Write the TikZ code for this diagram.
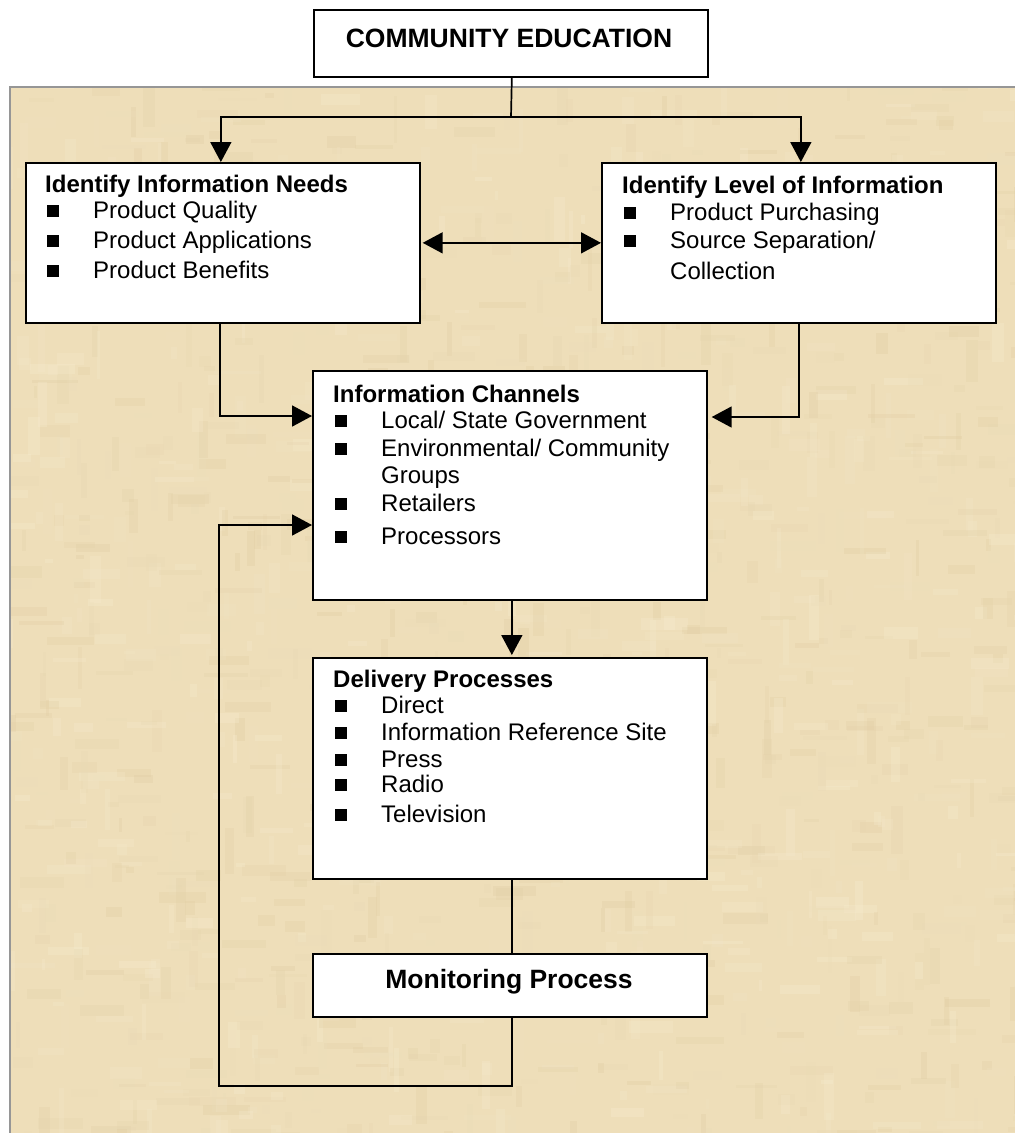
\documentclass[tikz,border=0pt]{standalone}
\usepackage{fontspec}
\setmainfont{Liberation Sans}
\usetikzlibrary{arrows.meta}

\definecolor{parchBase}{RGB}{238,222,185}
\definecolor{parchLight}{RGB}{249,239,212}
\definecolor{parchDark}{RGB}{222,202,158}
\definecolor{frameGray}{RGB}{150,150,150}

% one bulleted line, and a continuation line indented to the item text
\newcommand\bulletrow[1]{\hspace*{1.5pt}\raisebox{1pt}{\rule{12.5pt}{12pt}}\hspace*{34pt}#1}
\newcommand\wraprow[1]{\hspace*{48pt}#1}

\begin{document}
\begin{tikzpicture}[x=1pt,y=-1pt,
  box/.style={draw=black, fill=white, line width=1.7pt, anchor=north west,
              inner sep=0pt, minimum width=394pt},
  listtext/.style={anchor=base west, inner sep=0pt,
              font=\fontsize{24}{26}\selectfont},
  headtext/.style={anchor=base, inner sep=0pt,
              font=\fontsize{26.5}{30}\selectfont\bfseries},
  link/.style={draw=black, line width=1.7pt},
  arr/.style={link, -{Triangle[length=20pt,width=21pt]}},
]
\useasboundingbox (0,0) rectangle (1015,1133);

% parchment panel: base tone with soft light and dark streaks
\fill[parchBase] (10,87) rectangle (1015,1133);
\begin{scope}
  \clip (10,87) rectangle (1015,1133);
  \pgfmathsetseed{42}
  \foreach \i in {1,...,1500}{
    \pgfmathsetmacro{\px}{0+rnd*1025}
    \pgfmathsetmacro{\py}{80+rnd*1060}
    \pgfmathsetmacro{\rl}{8+rnd*40}
    \pgfmathsetmacro{\rt}{3+rnd*9}
    \pgfmathtruncatemacro{\pmix}{rnd*100}
    \pgfmathtruncatemacro{\vert}{rnd<0.4 ? 1 : 0}
    \ifnum\vert=1
      \fill[parchLight!\pmix!parchDark, opacity=0.28] (\px,\py) rectangle ++(\rt,\rl);
    \else
      \fill[parchLight!\pmix!parchDark, opacity=0.28] (\px,\py) rectangle ++(\rl,\rt);
    \fi
  }
\end{scope}
\draw[frameGray, line width=1.5pt] (10,1133) -- (10,87) -- (1015,87);

% boxes
\node[box, minimum height=67pt]  (ce)     at (313,9)   {};
\node[box, minimum height=160pt] (needs)  at (25,162)  {};
\node[box, minimum height=160pt] (level)  at (601,162) {};
\node[box, minimum height=229pt] (chan)   at (312,370) {};
\node[box, minimum height=221pt] (deliv)  at (312,657) {};
\node[box, minimum height=63pt]  (mon)    at (312,953) {};

% texts
\node[headtext] (ceText) at (509,47) {COMMUNITY EDUCATION};
\node[headtext] (monText) at (509,988) {Monitoring Process};

\node[listtext] (needsText) at (45,192) {\begin{tabular}[t]{@{}l@{}}
  \textbf{Identify Information Needs}\\
  \bulletrow{Product Quality}\\[4pt]
  \bulletrow{Product Applications}\\[4pt]
  \bulletrow{Product Benefits}
\end{tabular}};

\node[listtext] (levelText) at (622,193) {\begin{tabular}[t]{@{}l@{}}
  \textbf{Identify Level of Information}\\[1pt]
  \bulletrow{Product Purchasing}\\[2pt]
  \bulletrow{Source Separation/}\\[5pt]
  \wraprow{Collection}
\end{tabular}};

\node[listtext] (chanText) at (333,402) {\begin{tabular}[t]{@{}l@{}}
  \textbf{Information Channels}\\
  \bulletrow{Local/ State Government}\\[2pt]
  \bulletrow{Environmental/ Community}\\[1pt]
  \wraprow{Groups}\\[2pt]
  \bulletrow{Retailers}\\[7pt]
  \bulletrow{Processors}
\end{tabular}};

\node[listtext] (delivText) at (333,687) {\begin{tabular}[t]{@{}l@{}}
  \textbf{Delivery Processes}\\
  \bulletrow{Direct}\\[1pt]
  \bulletrow{Information Reference Site}\\[1pt]
  \bulletrow{Press}\\[-1pt]
  \bulletrow{Radio}\\[4pt]
  \bulletrow{Television}
\end{tabular}};

% connectors
\coordinate (split) at (511,117);
\coordinate (yL) at (0,416);
\coordinate (yR) at (0,417);
\coordinate (yB) at (0,525);
\coordinate (loopCorner) at (219,1086);

\draw[link] ([xshift=1pt]ce.south) -- (split);
\draw[arr] (split) -| ([xshift=-2pt]needs.north);
\draw[arr] (split) -| ([xshift=2pt]level.north);
\draw[link, {Triangle[length=20pt,width=21pt]}-{Triangle[length=20pt,width=21pt]},
      shorten <=2pt] (needs.east) -- (level.west);
\draw[arr] ([xshift=-3pt]needs.south) |- (chan.west |- yL);
\draw[arr, shorten >=4pt] (level.south) |- (chan.east |- yR);
\draw[arr, shorten >=2pt] ([xshift=2pt]chan.south) -- ([xshift=2pt]deliv.north);
\draw[link] ([xshift=2pt]deliv.south) -- ([xshift=2pt]mon.north);
\draw[arr] ([xshift=2pt]mon.south) |- (loopCorner) |- (chan.west |- yB);
\end{tikzpicture}
\end{document}
